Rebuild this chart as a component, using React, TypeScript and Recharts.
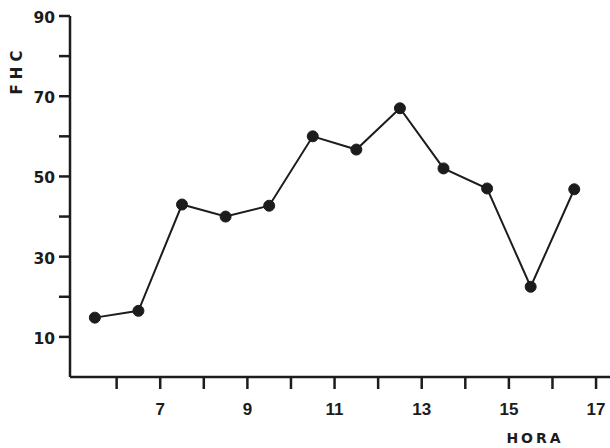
import React from 'react'
import { LineChart, Line, XAxis, YAxis } from 'recharts'

// hour of day vs FHC reading
const hours = [5.5, 6.5, 7.5, 8.5, 9.5, 10.5, 11.5, 12.5, 13.5, 14.5, 15.5, 16.5]
const fhc = [14.8, 16.5, 43, 40, 42.7, 60, 56.7, 67, 52, 47, 22.5, 46.8]
const xTicks = [6, 7, 8, 9, 10, 11, 12, 13, 14, 15, 16, 17]
const xLabels = [7, 9, 11, 13, 15, 17]
const yTicks = [10, 20, 30, 40, 50, 60, 70, 80, 90]
const yLabels = [10, 30, 50, 70, 90]

const data = hours.map((h, i) => ({ hora: h, fhc: fhc[i] }))

const ink = '#1c1c1c'
const wide = '"DejaVu Sans", sans-serif'
const narrow = '"Liberation Sans", Arial, sans-serif'

const XTick = (props: any) => {
  const { x, y, payload } = props
  if (!xLabels.includes(payload.value)) return null
  return (
    <text x={x} y={y + 24} textAnchor="middle" fontFamily={narrow} fontWeight={700} fontSize={17} fill={ink}>
      {payload.value}
    </text>
  )
}

const YTick = (props: any) => {
  const { x, y, payload } = props
  if (!yLabels.includes(payload.value)) return null
  return (
    <text x={x} y={y + 7} textAnchor="end" fontFamily={wide} fontWeight={700} fontSize={15.5} fill={ink}>
      {payload.value}
    </text>
  )
}

export default function App() {
  return (
    <div style={{ position: 'absolute', left: 0, top: 0, width: 610, height: 448, background: '#fff' }}>
      <LineChart width={610} height={448} data={data} margin={{ top: 16, right: 0, bottom: 41, left: 0 }}>
        <XAxis
          dataKey="hora"
          type="number"
          domain={[4.93, 17.32]}
          ticks={xTicks}
          interval={0}
          tick={<XTick />}
          tickSize={12}
          tickLine={{ stroke: ink, strokeWidth: 2.5 }}
          axisLine={{ stroke: ink, strokeWidth: 2.5 }}
          height={30}
          allowDataOverflow
        />
        <YAxis
          type="number"
          domain={[0, 90]}
          ticks={yTicks}
          interval={0}
          tick={<YTick />}
          tickSize={11}
          tickMargin={4}
          tickLine={{ stroke: ink, strokeWidth: 2.5 }}
          axisLine={{ stroke: ink, strokeWidth: 2.5 }}
          width={70}
        />
        <Line
          dataKey="fhc"
          stroke={ink}
          strokeWidth={2}
          dot={{ r: 5.5, fill: ink, stroke: ink, strokeWidth: 1 }}
          isAnimationActive={false}
        />
        <text
          x={17}
          y={70}
          transform="rotate(-90 17 70)"
          textAnchor="middle"
          dominantBaseline="middle"
          fontFamily={wide}
          fontWeight={700}
          fontSize={15}
          letterSpacing={5}
          fill={ink}
        >
          FHC
        </text>
        <text
          x={535}
          y={443}
          textAnchor="middle"
          fontFamily={wide}
          fontWeight={700}
          fontSize={14}
          letterSpacing={3}
          fill={ink}
        >
          HORA
        </text>
      </LineChart>
    </div>
  )
}
